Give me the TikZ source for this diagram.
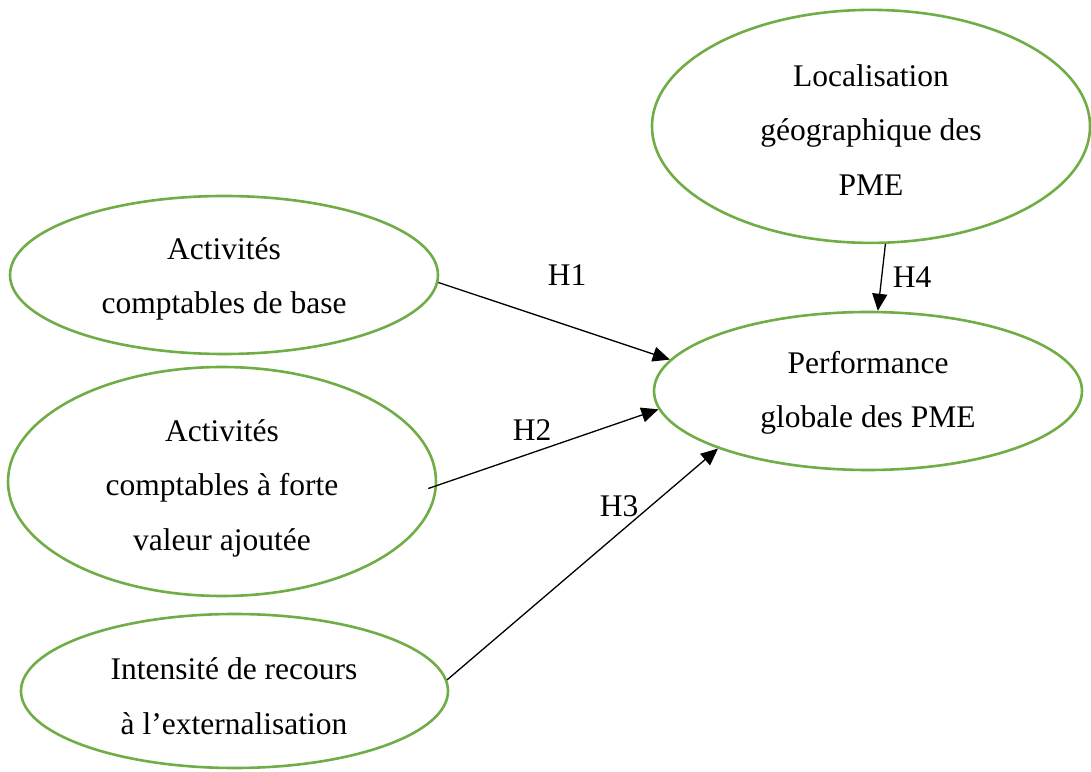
\documentclass[tikz,border=0pt]{standalone}
\usepackage{fontspec}
\setmainfont{Liberation Serif}
\usetikzlibrary{shapes.geometric,arrows.meta}
\definecolor{ellgreen}{RGB}{112,173,71}
\begin{document}
\begin{tikzpicture}[x=1pt,y=1pt,
  ell/.style={draw=ellgreen,line width=2.6pt,ellipse,inner sep=0pt},
  txt/.style={align=center,inner sep=0pt,font=\fontsize{31.5}{54.5}\selectfont},
  hyp/.style={inner sep=0pt,font=\fontsize{31.5}{54.5}\selectfont},
  conn/.style={line width=1.3pt,-{Triangle[length=17pt,width=15pt]}}]
\useasboundingbox (0,0) rectangle (1091,771);
\node[ell,minimum width=428,minimum height=158] (e1) at (224,496) {};
\node[ell,minimum width=428,minimum height=229] (e2) at (222,289.5) {};
\node[ell,minimum width=427,minimum height=154] (e3) at (234.5,80) {};
\node[ell,minimum width=438,minimum height=233] (e4) at (871,644.6) {};
\node[ell,minimum width=428,minimum height=158] (e5) at (868,380) {};
\node[txt] (t1) at (224,492) {Activités\\comptables de base};
\node[txt] (t2) at (222,283) {Activités\\comptables à forte\\valeur ajoutée};
\node[txt] (t3) at (234,75) {Intensité de recours\\à l’externalisation};
\node[txt] (t4) at (871,641) {Localisation\\géographique des\\PME};
\node[txt] (t5) at (868,378) {Performance\\globale des PME};
\draw[conn] (e1.-2) -- (e5.171);
\draw[conn] ([shift={(-9pt,-7pt)}]e2.east) -- (e5.185);
\draw[conn] (e3.3) -- (e5.201);
\draw[conn] (e4.-83) -- (e5.83);
\node[hyp] (h1) at (567,496) {H1};
\node[hyp] (h2) at (532,341) {H2};
\node[hyp] (h3) at (619,265) {H3};
\node[hyp] (h4) at (912,494) {H4};
\end{tikzpicture}
\end{document}
